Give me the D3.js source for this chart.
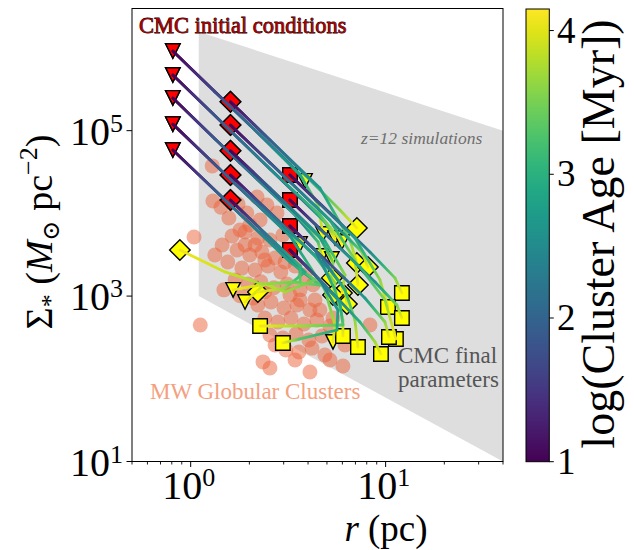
<!DOCTYPE html>
<html>
<head>
<meta charset="utf-8">
<script src="https://cdn.jsdelivr.net/npm/d3@7"></script>
<style>
  body { margin: 0; background: #fff; }
  svg { display: block; }
</style>
</head>
<body>
<svg id="chart" width="634" height="550" font-family="Liberation Serif, DejaVu Serif, Times New Roman, serif"></svg>
<script>
// Milky Way globular clusters: [half-light radius (pc), surface density (Msun pc^-2)]
const globularClusters = [
  [1.29,37500],[1.30,14100],[1.43,11900],[1.75,13000],[2.19,15800],[2.46,12600],[2.77,10100],
  [1.94,10100],[1.57,8800],[2.27,8320],[1.04,5180],[1.63,5330],[1.90,5960],[2.21,5040],
  [2.55,4770],[2.97,5480],[1.73,3610],[2.01,3140],[2.32,3410],[2.71,2890],[3.15,3410],
  [1.55,2580],[1.83,2180],[2.14,2070],[2.49,2310],[2.90,1960],[3.43,2310],[3.86,1800],
  [1.69,1570],[1.97,1400],[2.29,1490],[2.67,1260],[3.12,1400],[3.64,1190],[4.24,1370],
  [1.48,1190],[1.79,1010],[2.09,950],[2.21,780],[2.58,850],[3.01,720],[3.51,780],[4.09,680],
  [2.40,544],[2.80,486],[3.27,544],[3.81,460],[4.44,514],[5.18,435],[2.55,338],[2.97,311],
  [3.47,348],[4.04,294],[4.71,329],[3.08,223],[3.59,211],[4.19,235],[4.88,194],[1.12,447],
  [2.35,160],[2.55,135],[4.09,121],[6.04,143],[5.18,169],[8.31,447],[6.19,256],[1.90,4150],
  [2.14,4150],[2.40,2730],[3.05,2580],[1.79,6300],[2.01,7240],[3.64,898],[4.34,898],
  [3.23,1035],[4.60,680],[5.37,544],[2.71,256],[3.43,169],[2.40,1130],[1.45,4150],[1.33,3140]
];

// CMC tracks, one per run: snapshots of [radius (pc), surface density, log10 age (Myr)]
const triangleTracks = [
  [[0.81,9.2e5,1.0],[1.69,1.73e5,1.3],[3.23,3.96e4,2.0],[3.64,2.91e4,3.0],[3.86,2.47e4,4.1]],
  [[0.81,9.2e5,1.0],[1.33,2.94e5,1.7],[2.27,8.87e4,2.3],[3.64,2.91e4,2.9],[4.50,1.26e4,3.5],[4.77,5630,4.1]],
  [[0.81,4.72e5,1.0],[1.79,7.72e4,1.3],[3.64,1.54e4,2.0],[4.88,7870,3.0],[5.50,5040,4.1]],
  [[0.81,4.72e5,1.0],[1.26,1.73e5,1.8],[2.55,3.44e4,2.5],[4.60,9560,3.2],[5.97,4510,4.1]],
  [[0.81,2.49e5,1.0],[1.79,4.07e4,1.35],[3.43,9560,2.1],[4.50,4510,3.2],[4.71,3050,4.1]],
  [[0.81,2.49e5,1.0],[1.33,7.94e4,1.9],[2.71,1.62e4,2.6],[4.60,5040,3.4],[5.30,2810,4.1]],
  [[0.81,1.2e5,1.0],[1.69,2.27e4,1.4],[3.05,6130,2.3],[3.43,4770,3.3],[3.64,4270,4.1]],
  [[0.81,1.2e5,1.0],[1.41,3.44e4,1.9],[3.23,5330,2.7],[4.88,1190,3.3],[5.50,447,3.8],[5.37,279,4.1]],
  [[0.81,5.84e4,1.0],[1.79,9830,1.5],[3.64,2070,2.6],[4.60,1360,3.3],[3.23,1480,3.7],[2.27,1360,3.9],[1.65,1190,4.1]],
  [[0.81,5.84e4,1.0],[1.41,1.67e4,2.0],[3.23,2580,2.8],[4.34,1570,3.4],[3.05,1120,3.7],[2.40,1400,3.85],[1.90,848,4.1]]
];
const diamondTracks = [
  [[1.60,2.24e5,1.0],[2.55,7.72e4,1.6],[3.86,2.91e4,2.8],[5.83,1.10e4,3.6],[7.12,6660,4.1]],
  [[1.60,2.24e5,1.0],[2.40,8.87e4,1.9],[4.60,2.03e4,2.7],[6.56,4770,3.5],[7.12,2510,4.1]],
  [[1.60,1.17e5,1.0],[3.05,2.75e4,1.5],[5.83,6300,2.5],[7.56,3410,3.5],[8.11,2250,4.1]],
  [[1.60,1.17e5,1.0],[2.55,4.07e4,1.9],[5.18,8320,2.8],[6.96,2730,3.6],[7.21,1360,4.1]],
  [[1.60,5.73e4,1.0],[3.05,1.34e4,1.6],[4.60,5180,2.6],[5.37,2580,3.5],[5.30,1660,4.1]],
  [[1.60,5.73e4,1.0],[2.55,2.03e4,2.0],[4.88,4640,2.9],[6.19,1800,3.6],[5.97,1090,4.1]],
  [[1.60,2.91e4,1.0],[2.87,7870,1.6],[5.18,2070,2.6],[6.19,1190,3.5],[6.33,802,4.1]],
  [[1.60,2.91e4,1.0],[2.40,1.16e4,2.0],[4.34,3050,2.9],[5.50,1440,3.6],[5.37,1030,4.1]],
  [[1.60,1.45e4,1.0],[2.71,4390,1.9],[3.86,1960,2.9],[3.05,1250,3.6],[2.21,1120,4.1]],
  [[1.60,1.45e4,1.0],[2.40,5790,2.2],[3.64,2310,3.0],[3.64,1480,3.4],[2.32,1400,3.7],[1.50,1960,3.9],[0.88,3610,4.1]]
];
const squareTracks = [
  [[3.23,2.91e4,1.0],[5.18,1.01e4,1.5],[8.31,3410,2.5],[11.16,1660,3.5],[12.12,1090,4.1]],
  [[3.23,2.91e4,1.0],[4.60,1.30e4,1.9],[6.96,5040,2.8],[9.35,1570,3.6],[10.28,738,4.1]],
  [[3.23,1.45e4,1.0],[5.50,4390,1.6],[8.82,1480,2.6],[11.42,780,3.5],[12.12,544,4.1]],
  [[3.23,1.45e4,1.0],[4.60,6480,2.0],[7.38,2250,2.9],[9.92,897,3.6],[11.29,303,4.1]],
  [[3.23,7040,1.0],[5.18,2440,1.7],[7.83,948,2.7],[9.92,486,3.6],[10.40,320,4.1]],
  [[3.23,7040,1.0],[4.60,3140,2.1],[6.19,1190,3.0],[6.96,514,3.6],[7.21,242,4.1]],
  [[3.23,7040,1.0],[4.34,3610,2.2],[5.50,1190,3.1],[6.04,514,3.7],[6.04,329,4.1]],
  [[3.23,3610,1.0],[4.88,1360,1.9],[7.38,486,3.0],[8.82,279,3.7],[9.46,199,4.1]],
  [[3.23,3610,1.0],[4.34,1800,2.1],[5.83,848,2.8],[6.04,447,3.3],[3.64,435,3.7],[2.27,435,4.1]],
  [[3.23,3610,1.0],[4.60,1570,2.2],[5.69,679,2.7],[5.63,389,2.9],[3.64,303,3.3],[2.97,271,4.1]]
];

// Region covered by the z=12 simulations
const simRegionRadius = [1.1, 40, 40, 1.1];
const simRegionSigma = [1.57e6, 1.0e5, 10, 1000];

// Axis ticks
const xMajorTicks = [1, 10];
const xTickExponents = ["0", "1"];
const yMajorTicks = [10, 1e3, 1e5];
const yTickExponents = ["1", "3", "5"];
const ageTicks = [1, 2, 3, 4];
const ageRange = [1, 4.15];

const serif = "Liberation Serif, DejaVu Serif, serif";
const svg = d3.select("#chart").attr("font-family", serif);
const defs = svg.append("defs");
const plot = { left: 132, right: 503, top: 8.5, bottom: 461.5 };

const x = d3.scaleLog().domain([0.5, 40]).range([plot.left, plot.right]);
const y = d3.scaleLog().domain([10, 3e6]).range([plot.bottom, plot.top]);
const color = d3.scaleSequential(d3.interpolateViridis).domain(ageRange);

defs.append("clipPath").attr("id", "plotClip")
  .append("rect")
  .attr("x", plot.left).attr("y", plot.top)
  .attr("width", plot.right - plot.left).attr("height", plot.bottom - plot.top);

const inner = svg.append("g").attr("clip-path", "url(#plotClip)");

// shaded simulation region
inner.append("path")
  .attr("d", d3.line()(simRegionRadius.map((r, i) => [x(r), y(simRegionSigma[i])])) + "Z")
  .attr("fill", "#dedede");

inner.append("text")
  .attr("x", 361).attr("y", 144).attr("font-family", serif)
  .attr("font-size", 17.5).attr("font-style", "italic").attr("fill", "#6e6e6e")
  .text("z=12 simulations");

// Milky Way globular clusters
inner.append("g").selectAll("circle").data(globularClusters).join("circle")
  .attr("cx", d => x(d[0])).attr("cy", d => y(d[1]))
  .attr("r", 7.5)
  .attr("fill", "rgb(236,98,58)").attr("fill-opacity", 0.5);

// marker shapes
const ms = 14.5;
function markerPath(shape) {
  if (shape === "v") return `M${-ms/2},${-ms/2}L${ms/2},${-ms/2}L0,${ms/2}Z`;
  if (shape === "D") { const h = ms * 0.707; return `M0,${-h}L${h},0L0,${h}L${-h},0Z`; }
  return `M${-ms/2},${-ms/2}h${ms}v${ms}h${-ms}Z`;
}

const families = [
  { shape: "v", tracks: triangleTracks },
  { shape: "D", tracks: diamondTracks },
  { shape: "s", tracks: squareTracks }
];

const markerLayer = inner.append("g");
const lineLayer = inner.append("g");

families.forEach(fam => {
  fam.tracks.forEach(track => {
    const first = track[0];
    markerLayer.append("path")
      .attr("d", markerPath(fam.shape))
      .attr("transform", `translate(${x(first[0])},${y(first[1])})`)
      .attr("fill", "#ff0000").attr("stroke", "#000").attr("stroke-width", 1.4);
  });
});
families.forEach(fam => {
  fam.tracks.forEach(track => {
    const last = track[track.length - 1];
    markerLayer.append("path")
      .attr("d", markerPath(fam.shape))
      .attr("transform", `translate(${x(last[0])},${y(last[1])})`)
      .attr("fill", "#ffff00").attr("stroke", "#000").attr("stroke-width", 1.4);
  });
});

// age-coloured tracks, each segment shaded between its two snapshot ages
let segId = 0;
families.forEach(fam => {
  fam.tracks.forEach(track => {
    for (let i = 0; i < track.length - 1; i++) {
      const [r1, s1, a1] = track[i];
      const [r2, s2, a2] = track[i + 1];
      const id = "seg" + (segId++);
      const grad = defs.append("linearGradient").attr("id", id)
        .attr("gradientUnits", "userSpaceOnUse")
        .attr("x1", x(r1)).attr("y1", y(s1)).attr("x2", x(r2)).attr("y2", y(s2));
      grad.append("stop").attr("offset", 0).attr("stop-color", color(a1));
      grad.append("stop").attr("offset", 0.5).attr("stop-color", color((a1 + a2) / 2));
      grad.append("stop").attr("offset", 1).attr("stop-color", color(a2));
      lineLayer.append("line")
        .attr("x1", x(r1)).attr("y1", y(s1)).attr("x2", x(r2)).attr("y2", y(s2))
        .attr("stroke", `url(#${id})`).attr("stroke-width", 2.8)
        .attr("stroke-linecap", "round");
    }
  });
});

// annotations
svg.append("text")
  .attr("x", 139).attr("y", 33).attr("font-family", serif)
  .attr("font-size", 22.5).attr("fill", "#a80000")
  .attr("stroke", "#000").attr("stroke-width", 0.8).attr("paint-order", "stroke")
  .text("CMC initial conditions");

const finalLabel = svg.append("text").attr("font-family", serif)
  .attr("font-size", 23).attr("fill", "#555");
finalLabel.append("tspan").attr("x", 398).attr("y", 363).text("CMC final");
finalLabel.append("tspan").attr("x", 398).attr("y", 387).text("parameters");

svg.append("text")
  .attr("x", 150).attr("y", 399).attr("font-family", serif)
  .attr("font-size", 23).attr("fill", "#f4a080")
  .text("MW Globular Clusters");

// frame
svg.append("rect")
  .attr("x", plot.left).attr("y", plot.top)
  .attr("width", plot.right - plot.left).attr("height", plot.bottom - plot.top)
  .attr("fill", "none").attr("stroke", "#000").attr("stroke-width", 1);

// x ticks
const xMinor = x.ticks().filter(t => !xMajorTicks.includes(t));
svg.append("g").selectAll("line").data(xMinor).join("line")
  .attr("x1", d => x(d)).attr("x2", d => x(d))
  .attr("y1", plot.bottom).attr("y2", plot.bottom + 3)
  .attr("stroke", "#000").attr("stroke-width", 0.9);
svg.append("g").selectAll("line").data(xMajorTicks).join("line")
  .attr("x1", d => x(d)).attr("x2", d => x(d))
  .attr("y1", plot.bottom).attr("y2", plot.bottom + 5.5)
  .attr("stroke", "#000").attr("stroke-width", 1);
xMajorTicks.forEach((t, i) => {
  const lbl = svg.append("text").attr("font-family", serif)
    .attr("x", x(t) - 2).attr("y", 499)
    .attr("text-anchor", "middle").attr("font-size", 40);
  lbl.append("tspan").text("10");
  lbl.append("tspan").attr("dy", -13).attr("font-size", 26).text(xTickExponents[i]);
});

// y ticks
svg.append("g").selectAll("line").data(yMajorTicks).join("line")
  .attr("x1", plot.left - 5.5).attr("x2", plot.left)
  .attr("y1", d => y(d)).attr("y2", d => y(d))
  .attr("stroke", "#000").attr("stroke-width", 1);
yMajorTicks.forEach((t, i) => {
  const lbl = svg.append("text").attr("font-family", serif)
    .attr("x", 123).attr("y", y(t) + 14)
    .attr("text-anchor", "end").attr("font-size", 40);
  lbl.append("tspan").text("10");
  lbl.append("tspan").attr("dy", -13).attr("font-size", 26).text(yTickExponents[i]);
});

// axis titles
const xTitle = svg.append("text").attr("font-family", serif)
  .attr("x", 386).attr("y", 541).attr("text-anchor", "middle").attr("font-size", 37);
xTitle.append("tspan").attr("font-style", "italic").text("r");
xTitle.append("tspan").text(" (pc)");

const yTitle = svg.append("text").attr("font-family", serif)
  .attr("transform", "translate(52,232) rotate(-90)")
  .attr("text-anchor", "middle").attr("font-size", 38);
yTitle.append("tspan").text("Σ");
yTitle.append("tspan").attr("dy", 7).attr("font-size", 26).text("*");
yTitle.append("tspan").attr("dy", -7).text(" (");
yTitle.append("tspan").attr("font-style", "italic").text("M");
yTitle.append("tspan").attr("dy", 7).attr("font-size", 24).text("⊙");
yTitle.append("tspan").attr("dy", -7).text(" pc");
yTitle.append("tspan").attr("dy", -15).attr("font-size", 26).text("−2");
yTitle.append("tspan").attr("dy", 15).text(")");

// colour bar
const cb = { left: 526, right: 549.3, top: 9, bottom: 461.7 };
const cbScale = d3.scaleLinear().domain(ageRange).range([cb.bottom, cb.top]);
const cbGrad = defs.append("linearGradient").attr("id", "cbGrad")
  .attr("x1", 0).attr("y1", 1).attr("x2", 0).attr("y2", 0);
d3.range(0, 1.0001, 0.05).forEach(f => {
  cbGrad.append("stop").attr("offset", f)
    .attr("stop-color", color(ageRange[0] + f * (ageRange[1] - ageRange[0])));
});
svg.append("rect")
  .attr("x", cb.left).attr("y", cb.top)
  .attr("width", cb.right - cb.left).attr("height", cb.bottom - cb.top)
  .attr("fill", "url(#cbGrad)").attr("stroke", "#000").attr("stroke-width", 1);
svg.append("g").selectAll("line").data(ageTicks).join("line")
  .attr("x1", cb.right).attr("x2", cb.right + 4.5)
  .attr("y1", d => cbScale(d)).attr("y2", d => cbScale(d))
  .attr("stroke", "#000");
svg.append("g").selectAll("text").data(ageTicks).join("text")
  .attr("font-family", serif)
  .attr("x", 557).attr("y", d => cbScale(d) + 12)
  .attr("font-size", 37).text(d => d);

svg.append("text").attr("font-family", serif)
  .attr("transform", "translate(614,234) rotate(-90)")
  .attr("text-anchor", "middle").attr("font-size", 46)
  .text("log(Cluster Age [Myr])");
</script>
</body>
</html>
